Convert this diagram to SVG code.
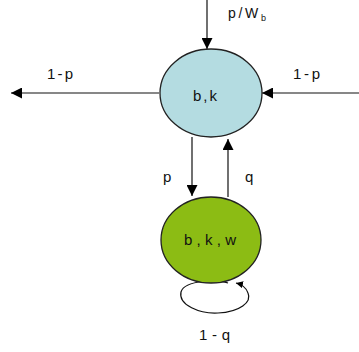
<svg xmlns="http://www.w3.org/2000/svg" width="359" height="352" viewBox="0 0 359 352">
<style>
.t{font-family:"Liberation Sans",Arial,sans-serif;font-size:15px;fill:#111}
.s{font-size:14px}
.e{stroke:#111;stroke-width:1.2;fill:none}
.n{stroke:#222;stroke-width:1.3}
</style>
<defs>
<marker id="ah" viewBox="0 0 10 10" refX="10" refY="5" markerWidth="13" markerHeight="11" markerUnits="userSpaceOnUse" orient="auto">
<path d="M0,0 L10,5 L0,10 Z" fill="#000"/>
</marker>
<marker id="sm" viewBox="0 0 10 10" refX="10" refY="5" markerWidth="7" markerHeight="7" markerUnits="userSpaceOnUse" orient="auto">
<path d="M0,0 L10,5 L0,10 Z" fill="#000"/>
</marker>
</defs>
<rect width="359" height="352" fill="#fff"/>
<g id="connectors">
<line class="e" x1="207" y1="0" x2="207" y2="49" marker-end="url(#ah)"/>
<line class="e" x1="159" y1="93" x2="11" y2="93" marker-end="url(#ah)"/>
<line class="e" x1="359" y1="93" x2="262" y2="93" marker-end="url(#ah)"/>
<line class="e" x1="192" y1="137" x2="192" y2="196" marker-end="url(#ah)"/>
<line class="e" x1="228" y1="197" x2="228" y2="139" marker-end="url(#ah)"/>
<path class="e" d="M228,283 C220,280 185,279 181,292 C178,305 200,314 218,313 C240,312 252,302 248,293 C246,287 240,284 236,283" marker-end="url(#sm)"/>
<text class="t s" x="228" y="18" textLength="38" lengthAdjust="spacing">p/W<tspan font-size="9" dy="3">b</tspan></text>
<text class="t" x="47" y="79" textLength="26" lengthAdjust="spacing">1-p</text>
<text class="t" x="293" y="79" textLength="27" lengthAdjust="spacing">1-p</text>
<text class="t" x="163" y="182">p</text>
<text class="t" x="245" y="182">q</text>
<text class="t" x="199" y="340" textLength="31" lengthAdjust="spacing">1-q</text>
</g>
<g id="node-bk">
<ellipse class="n" cx="211" cy="93" rx="51" ry="44" fill="#b4dce1"/>
<text class="t" x="193" y="101" textLength="24" lengthAdjust="spacing">b,k</text>
</g>
<g id="node-bkw">
<ellipse class="n" cx="211" cy="240" rx="50" ry="43" fill="#8cbc14"/>
<text class="t" x="184" y="245" textLength="52" lengthAdjust="spacing">b,k,w</text>
</g>
</svg>
